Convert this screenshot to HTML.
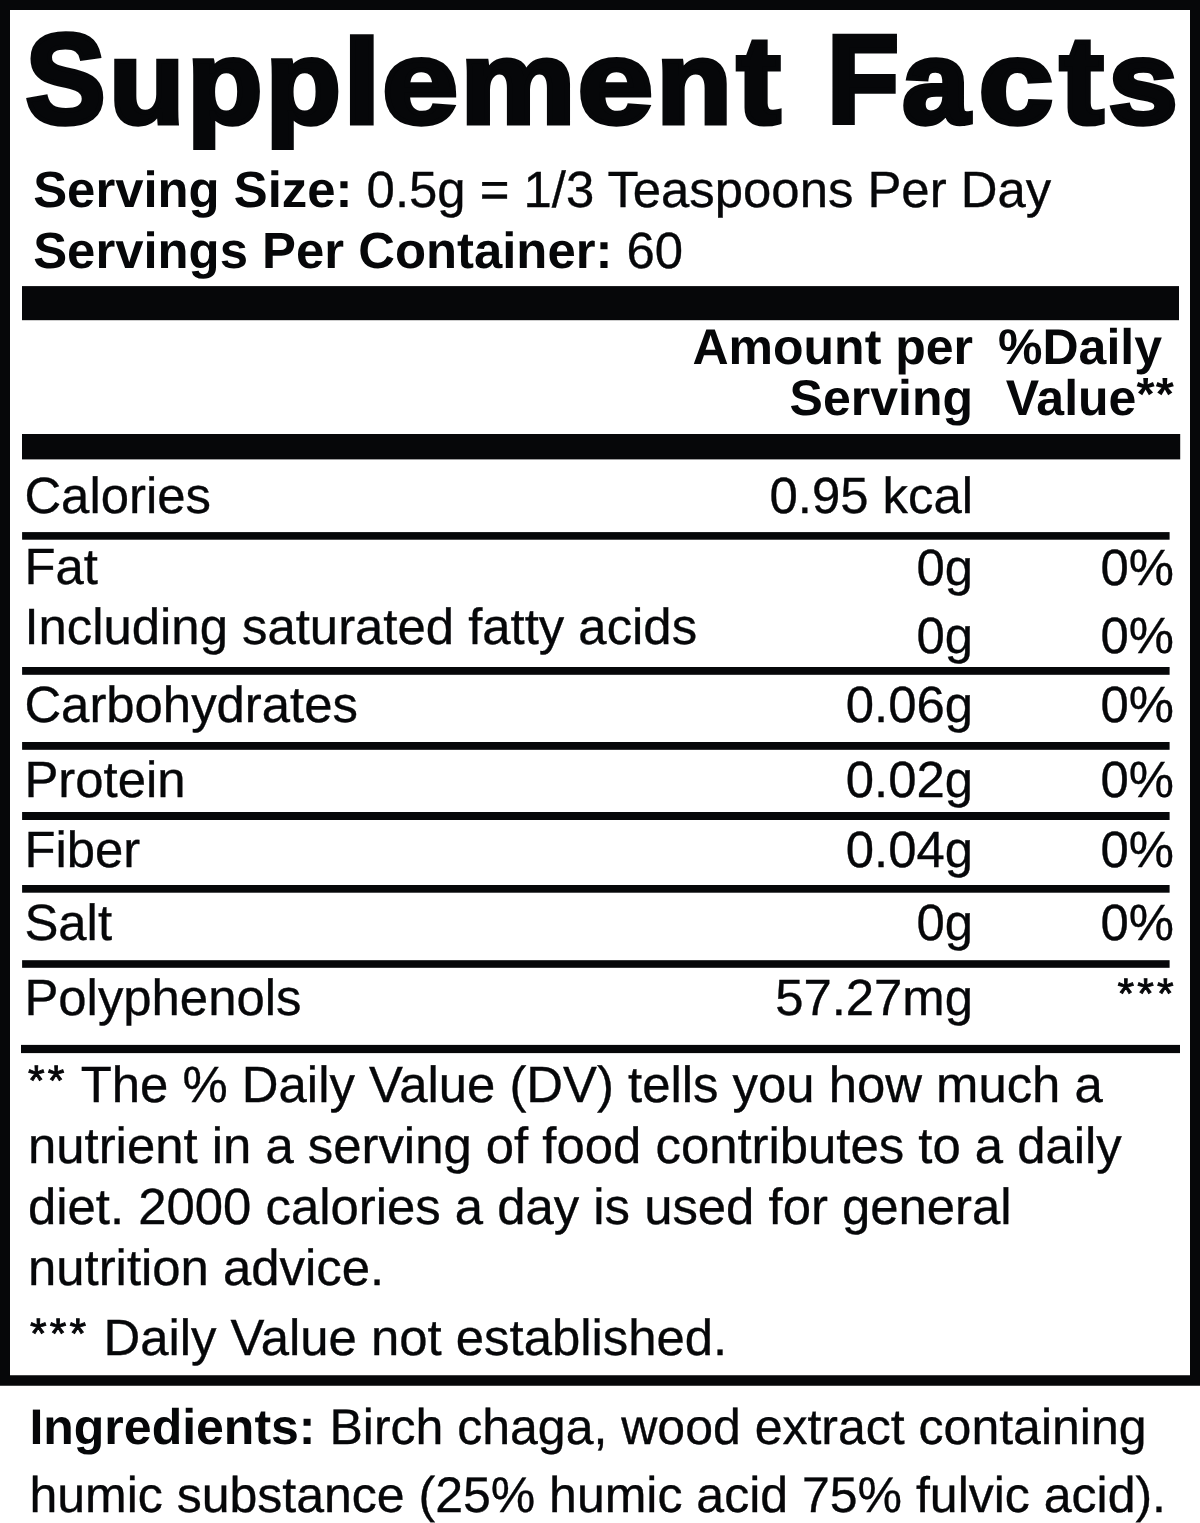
<!DOCTYPE html>
<html lang="en">
<head>
<meta charset="utf-8">
<title>Supplement Facts</title>
<style>
html,body{margin:0;padding:0;background:#fff;width:1200px;height:1523px;overflow:hidden}
main{display:block;position:relative;width:1200px;height:1523px;overflow:hidden}
body{font-family:"Liberation Sans", Arial, Helvetica, sans-serif;color:#060709;text-rendering:geometricPrecision;-webkit-font-smoothing:antialiased}
.t{position:absolute;white-space:nowrap;margin:0;padding:0;font-weight:400;-webkit-text-stroke:0.35px #060709}
.t b,.t.b{font-weight:700;-webkit-text-stroke:0}
.t .ab{font-size:0.93em;letter-spacing:0.0293em;position:relative;top:-0.099em}
.t .a{font-size:0.84em;letter-spacing:0.0741em;position:relative;top:-0.1723em;-webkit-text-stroke:0.9px #060709}
svg{position:absolute;left:0;top:0;overflow:visible}
h1{margin:0;padding:0;font-size:0;line-height:0}
</style>
</head>
<body>
<main aria-label="Supplement Facts label">
<svg class="rules" width="1200" height="1523" viewBox="0 0 1200 1523" aria-hidden="true" fill="#060709"><path fill-rule="evenodd" d="M0 0H1200V1385.8H0Z M10 10H1190V1375.3H10Z"/><rect x="22" y="286.1" width="1157.00" height="34.10"/><rect x="22" y="434" width="1158.20" height="25.40"/><rect x="22.1" y="532.1" width="1147.50" height="7.60"/><rect x="22.1" y="667.0" width="1147.50" height="7.80"/><rect x="22.1" y="742.0" width="1147.50" height="7.80"/><rect x="22.1" y="812.0" width="1147.50" height="8.00"/><rect x="22.1" y="885.0" width="1147.50" height="7.70"/><rect x="22.1" y="960.2" width="1147.50" height="7.60"/><rect x="21" y="1044.9" width="1159.00" height="8.20"/></svg>
<h1><svg width="1200" height="160" viewBox="0 0 1200 160" aria-label="Supplement Facts"><text font-family="Liberation Sans, Arial, Helvetica, sans-serif" font-weight="700" fill="#060709" stroke="#060709" stroke-width="5.0" stroke-linejoin="miter" stroke-miterlimit="4" xml:space="preserve"><tspan x="25.59" y="122.95" font-size="127.68" textLength="80.05" lengthAdjust="spacingAndGlyphs">S</tspan><tspan x="109.21" y="122.56" font-size="116.90" textLength="75.06" lengthAdjust="spacingAndGlyphs">u</tspan><tspan x="187.30" y="123.06" font-size="117.79" textLength="75.13" lengthAdjust="spacingAndGlyphs">p</tspan><tspan x="265.71" y="123.06" font-size="117.79" textLength="75.02" lengthAdjust="spacingAndGlyphs">p</tspan><tspan x="343.54" y="122.50" font-size="119.10" textLength="36.75" lengthAdjust="spacingAndGlyphs">l</tspan><tspan x="382.26" y="123.05" font-size="118.10" textLength="75.71" lengthAdjust="spacingAndGlyphs">e</tspan><tspan x="460.45" y="122.50" font-size="116.98" textLength="114.80" lengthAdjust="spacingAndGlyphs">m</tspan><tspan x="577.88" y="123.05" font-size="118.10" textLength="75.18" lengthAdjust="spacingAndGlyphs">e</tspan><tspan x="656.52" y="122.50" font-size="116.98" textLength="75.19" lengthAdjust="spacingAndGlyphs">n</tspan><tspan x="736.85" y="122.71" font-size="124.00" textLength="43.81" lengthAdjust="spacingAndGlyphs">t</tspan><tspan x="800" y="125" font-size="120"> </tspan><tspan x="827.54" y="122.00" font-size="123.98" textLength="70.90" lengthAdjust="spacingAndGlyphs" stroke-width="6.0">F</tspan><tspan x="902.32" y="122.85" font-size="117.73" textLength="67.34" lengthAdjust="spacingAndGlyphs">a</tspan><tspan x="978.81" y="123.05" font-size="118.10" textLength="74.28" lengthAdjust="spacingAndGlyphs">c</tspan><tspan x="1059.75" y="122.71" font-size="124.00" textLength="43.90" lengthAdjust="spacingAndGlyphs">t</tspan><tspan x="1108.56" y="123.05" font-size="117.99" textLength="69.21" lengthAdjust="spacingAndGlyphs">s</tspan></text></svg></h1>
<p class="t" style="top:158.88px;font-size:50.85px;line-height:61px;left:33.20px"><b>Serving Size:</b> 0.5g = 1/3 Teaspoons Per Day</p>
<p class="t" style="top:219.88px;font-size:50.85px;line-height:61px;left:33.20px"><b>Servings Per Container:</b> 60</p>
<div class="t b" style="top:316.68px;font-size:50px;line-height:60px;right:227.00px">Amount per</div>
<div class="t b" style="top:367.68px;font-size:50px;line-height:60px;right:227.00px">Serving</div>
<div class="t b" style="top:316.68px;font-size:50px;line-height:60px;right:38.00px">%Daily</div>
<div class="t b" style="top:367.68px;font-size:50px;line-height:60px;right:24.70px">Value<span class="ab">**</span></div>
<div class="t" style="top:464.88px;font-size:50.85px;line-height:61px;left:24.40px">Calories</div>
<div class="t" style="top:464.88px;font-size:50.85px;line-height:61px;right:227.00px">0.95 kcal</div>
<div class="t" style="top:535.88px;font-size:50.85px;line-height:61px;left:24.40px">Fat</div>
<div class="t" style="top:536.88px;font-size:50.85px;line-height:61px;right:227.00px">0g</div>
<div class="t" style="top:536.88px;font-size:50.85px;line-height:61px;right:26.00px">0%</div>
<div class="t" style="top:595.88px;font-size:50.85px;line-height:61px;left:24.40px">Including saturated fatty acids</div>
<div class="t" style="top:604.88px;font-size:50.85px;line-height:61px;right:227.00px">0g</div>
<div class="t" style="top:604.88px;font-size:50.85px;line-height:61px;right:26.00px">0%</div>
<div class="t" style="top:673.88px;font-size:50.85px;line-height:61px;left:24.40px">Carbohydrates</div>
<div class="t" style="top:673.88px;font-size:50.85px;line-height:61px;right:227.00px">0.06g</div>
<div class="t" style="top:673.88px;font-size:50.85px;line-height:61px;right:26.00px">0%</div>
<div class="t" style="top:748.88px;font-size:50.85px;line-height:61px;left:24.40px">Protein</div>
<div class="t" style="top:748.88px;font-size:50.85px;line-height:61px;right:227.00px">0.02g</div>
<div class="t" style="top:748.88px;font-size:50.85px;line-height:61px;right:26.00px">0%</div>
<div class="t" style="top:818.88px;font-size:50.85px;line-height:61px;left:24.40px">Fiber</div>
<div class="t" style="top:818.88px;font-size:50.85px;line-height:61px;right:227.00px">0.04g</div>
<div class="t" style="top:818.88px;font-size:50.85px;line-height:61px;right:26.00px">0%</div>
<div class="t" style="top:891.88px;font-size:50.85px;line-height:61px;left:24.40px">Salt</div>
<div class="t" style="top:891.88px;font-size:50.85px;line-height:61px;right:227.00px">0g</div>
<div class="t" style="top:891.88px;font-size:50.85px;line-height:61px;right:26.00px">0%</div>
<div class="t" style="top:966.88px;font-size:50.85px;line-height:61px;left:24.40px">Polyphenols</div>
<div class="t" style="top:966.88px;font-size:50.85px;line-height:61px;right:227.00px">57.27mg</div>
<div class="t" style="top:966.88px;font-size:50.85px;line-height:61px;right:23.20px"><span class="a">***</span></div>
<p class="t" style="top:1053.88px;font-size:50.85px;line-height:61px;left:28.00px"><span class="a">**</span> The % Daily Value (DV) tells you how much a</p>
<p class="t" style="top:1114.88px;font-size:50.85px;line-height:61px;left:28.00px">nutrient in a serving of food contributes to a daily</p>
<p class="t" style="top:1175.88px;font-size:50.85px;line-height:61px;left:28.00px">diet. 2000 calories a day is used for general</p>
<p class="t" style="top:1236.88px;font-size:50.85px;line-height:61px;left:28.00px">nutrition advice.</p>
<p class="t" style="top:1306.88px;font-size:50.85px;line-height:61px;left:30.00px"><span class="a">***</span> Daily Value not established.</p>
<p class="t" style="top:1396.67px;font-size:50px;line-height:60px;left:29.40px"><b>Ingredients:</b> Birch chaga, wood extract containing</p>
<p class="t" style="top:1464.67px;font-size:50px;line-height:60px;left:29.40px">humic substance (25% humic acid 75% fulvic acid).</p>
</main>
</body>
</html>
